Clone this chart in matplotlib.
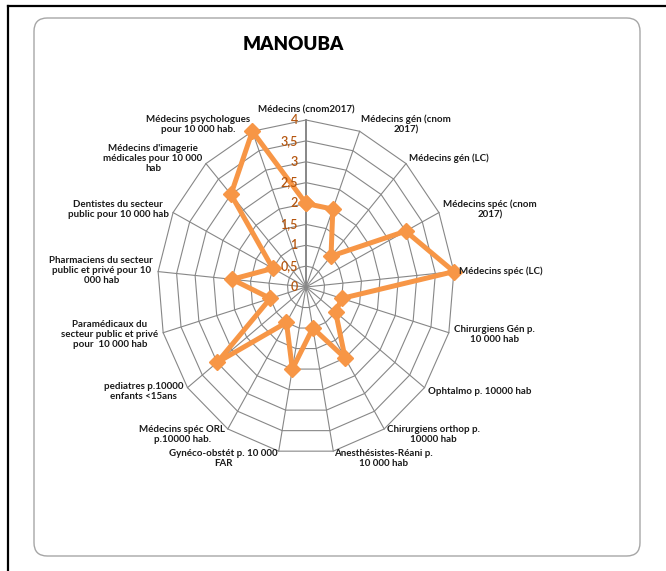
import numpy as np
import matplotlib
matplotlib.use("Agg")
import matplotlib.pyplot as plt
from matplotlib.patches import FancyBboxPatch
from matplotlib.lines import Line2D

plt.rcParams['font.family'] = ['Lato', 'DejaVu Sans']

categories = [
    "Médecins (cnom2017)",
    "Médecins gén (cnom\n2017)",
    "Médecins gén (LC)",
    "Médecins spéc (cnom\n2017)",
    "Médecins spéc (LC)",
    "Chirurgiens Gén p.\n10 000 hab",
    "Ophtalmo p. 10000 hab",
    "Chirurgiens orthop p.\n10000 hab",
    "Anesthésistes-Réani p.\n10 000 hab",
    "Gynéco-obstét p. 10 000\nFAR",
    "Médecins spéc ORL\np.10000 hab.",
    "pediatres p.10000\nenfants <15ans",
    "Paramédicaux du\nsecteur public et privé\npour  10 000 hab",
    "Pharmaciens du secteur\npublic et privé pour 10\n000 hab",
    "Dentistes du secteur\npublic pour 10 000 hab",
    "Médecins d'imagerie\nmédicales pour 10 000\nhab",
    "Médecins psychologues\npour 10 000 hab.",
]
values = [2, 2, 1, 3, 4, 1, 1, 2, 1, 2, 1, 3, 1, 2, 1, 3, 4]
levels = [0.5, 1, 1.5, 2, 2.5, 3, 3.5, 4]
level_labels = ["0", "0,5", "1", "1,5", "2", "2,5", "3", "3,5", "4"]

W, H = 666, 571
fig = plt.figure(figsize=(W / 100, H / 100), dpi=100)

# frame: black edge top/left + rounded grey chart area (behind the axes)
fig.add_artist(Line2D([8 / W, 1], [1 - 6 / H, 1 - 6 / H], color="black", lw=1.6))
fig.add_artist(Line2D([8 / W, 8 / W], [0, 1 - 6 / H], color="black", lw=1.6))
fig.add_artist(FancyBboxPatch((34 / W, 15 / H), 606 / W, 538 / H,
                              boxstyle="round,pad=0,rounding_size=0.02",
                              transform=fig.transFigure, fc="white",
                              ec="#a6a6a6", lw=1.0, mutation_aspect=W / H,
                              zorder=-5))

fig.text(293 / W, 1 - 45 / H, "MANOUBA", ha="center", va="center",
         fontsize=13.5, fontweight="heavy")

# radar drawn in a plain axes (picture is stretched, so x/y scales differ)
ax = fig.add_axes([0, 0, 1, 1])
ax.set_zorder(5)
ax.patch.set_alpha(0)
ax.set_xlim(-306 / 37.125, (W - 306) / 37.125)
ax.set_ylim(-284 / 41.75, 287 / 41.75)
ax.axis("off")

n = len(categories)
theta = 2 * np.pi * np.arange(n) / n
sx, sy = np.sin(theta), np.cos(theta)

grid_c = "#878787"
for lv in levels:
    ax.plot(np.append(sx, sx[0]) * lv, np.append(sy, sy[0]) * lv,
            color=grid_c, lw=0.8, zorder=1)
for i in range(n):
    ax.plot([0, sx[i] * 4], [0, sy[i] * 4], color=grid_c,
            lw=1.4 if i == 0 else 0.8, zorder=1)

for k, lab in enumerate(level_labels):
    ax.annotate(lab, xy=(0, k * 0.5), xytext=(-6, 0), textcoords="offset points",
                ha="right", va="center", fontsize=9, fontweight="semibold",
                color="#B5560F", zorder=4)

v = np.array(values, dtype=float)
ax.plot(np.append(sx * v, sx[0] * v[0]), np.append(sy * v, sy[0] * v[0]),
        color="#F79646", lw=3.6, marker="D", ms=8, mec="#F79646", mfc="#F79646",
        zorder=3, solid_joinstyle="miter")

for i, lab in enumerate(categories):
    if i == 0:
        ha, va, dx, dy = "center", "bottom", 0, 6
    else:
        ha = "left" if sx[i] > 0 else "right"
        va = "center"
        dx = 5 * sx[i]
        dy = 7 * sy[i]
    ax.annotate(lab, xy=(sx[i] * 4, sy[i] * 4), xytext=(dx * 0.72, dy * 0.72),
                textcoords="offset points", ha=ha, va=va, multialignment="center",
                fontsize=7, fontweight="bold", color="#1a1a1a", linespacing=1.15)

fig.savefig("out.png", dpi=100)
